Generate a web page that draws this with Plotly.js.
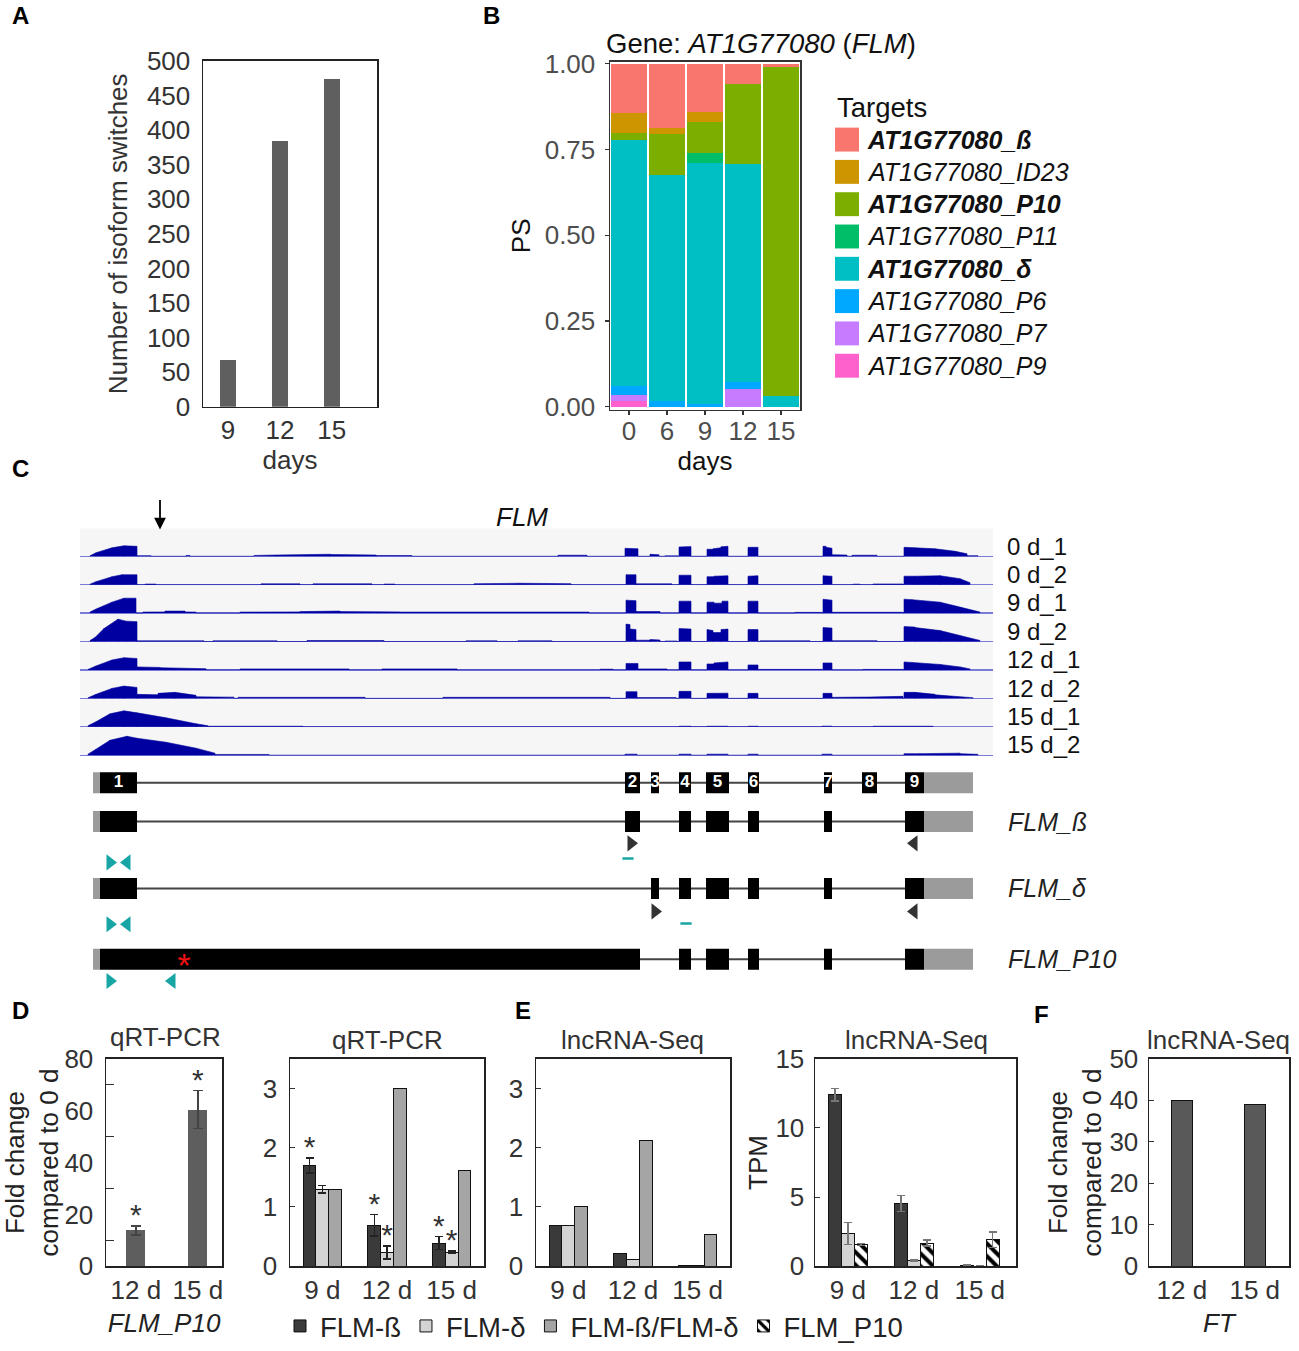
<!DOCTYPE html>
<html><head><meta charset="utf-8">
<script src="https://cdn.plot.ly/plotly-3.0.1.min.js"></script>
<style>body{margin:0;background:#fff}#chart{width:1299px;height:1351px}</style>
</head><body><div id="chart"></div>
<script>
// ---------------- DATA ----------------
// Panel A
const daysA = ['9', '12', '15'];
const switchesA = [68, 384, 474];

// Panel B (proportion of isoform usage, PS)
const daysB = ['0', '6', '9', '12', '15'];
const targetNames = ['AT1G77080_ß', 'AT1G77080_ID23', 'AT1G77080_P10', 'AT1G77080_P11', 'AT1G77080_δ', 'AT1G77080_P6', 'AT1G77080_P7', 'AT1G77080_P9'];
const targetBold = [true, false, true, false, true, false, false, false];
const targetColors = ['#F8766D', '#CD9600', '#7CAE00', '#00BE67', '#00BFC4', '#00A9FF', '#C77CFF', '#FF61CC'];
const psBeta  = [0.141, 0.187, 0.141, 0.059, 0.008];
const psID23  = [0.058, 0.017, 0.029, 0.000, 0.000];
const psP10   = [0.021, 0.120, 0.091, 0.232, 0.960];
const psP11   = [0.000, 0.000, 0.029, 0.000, 0.000];
const psDelta = [0.716, 0.658, 0.703, 0.636, 0.032];
const psP6    = [0.029, 0.017, 0.007, 0.019, 0.000];
const psP7    = [0.016, 0.000, 0.000, 0.053, 0.000];
const psP9    = [0.017, 0.000, 0.000, 0.000, 0.000];

// Panel C coverage tracks: segments [start, end, heightStart, heightEnd]
const trackLabels = ['0 d_1', '0 d_2', '9 d_1', '9 d_2', '12 d_1', '12 d_2', '15 d_1', '15 d_2'];
const cov0d1 = [[90,96,0.5,3.5],[96,112,3.5,8.5],[112,124,8.5,10.5],[124,137,10.5,10],[137,151,0.6,0.6],[186,190,0.8,0.8],
  [254,276,0.8,1.2],[276,330,1.2,2],[330,376,1.8,1.2],[376,412,0.8,0.7],[558,587,1,1],
  [625,638,8,7.5],[650,659,2,1.5],[665,678,0.4,0.4],[679,691,9.3,9.7],[707,713,7,7],[713,721,7.5,8.5],[721,728,9.5,10],
  [748,758,9,9],[823,826,10,10],[826,832,9,8],[832,847,1.5,1.2],[852,877,1,1],
  [904,915,9,8.5],[915,935,8.5,7.5],[935,955,7.5,5],[955,967,5,2.5],[967,978,0.6,0.6]];
const cov0d2 = [[90,96,0.5,3],[96,112,3,8],[112,122,8,10],[122,137,10,10],[145,156,0.6,0.6],
  [261,300,0.8,0.8],[313,372,0.8,0.8],[384,395,0.6,0.6],[474,520,0.9,1.4],[520,571,1.4,1],
  [626,636,10,10],[636,672,0.8,0.8],[679,691,9.5,9.5],[707,714,8,8],[714,728,8.5,9],[748,758,8.5,9],
  [823,832,9,8.5],[853,860,0.5,0.5],[873,903,0.7,0.7],
  [904,915,8.5,8.5],[915,940,8.5,9],[940,960,9,6],[960,970,6,2]];
const cov9d1 = [[90,96,1,4],[96,112,4,11],[112,124,11,15],[124,136,15,15],[143,165,1,1.2],[165,185,2,2],[185,196,1.2,1],
  [240,300,1,1.2],[300,340,1.5,2],[340,400,1.5,1.2],[400,589,1,1],
  [626,636,13,12.5],[636,660,1.5,1.5],[679,691,12,12],[707,714,11,11],[714,722,10,10],[722,728,12,12],[748,758,12,12],
  [795,822,0.7,0.7],[823,832,14,13],[832,903,0.8,0.8],
  [904,912,14,13.5],[912,940,13.5,11],[940,960,11,6],[960,980,6,1]];
const cov9d2 = [[90,95,1,4],[95,104,4,13],[104,118,13,22.5],[118,126,22.5,20.5],[126,137,20.5,20],
  [137,204,0.7,0.7],[213,277,0.7,0.7],[307,384,1,1],[466,497,0.7,0.7],[518,552,0.7,0.7],
  [626,630,17.5,17],[630,636,12.5,12],[636,650,1.3,1.3],[650,660,2,1.5],[665,677,0.5,0.5],
  [679,691,13,12.5],[707,713,12,11],[713,721,9,9],[721,728,12,12.5],[748,758,12,12],[760,810,0.7,0.7],
  [823,832,14,13.5],[832,877,0.8,0.8],
  [904,915,15,14.5],[915,940,14,11],[940,960,11,6],[960,980,6,1]];
const cov12d1 = [[88,96,0.5,4],[96,112,4,10],[112,124,10,12.3],[124,137,12.3,11.5],[137,160,3,2.5],[160,206,2.2,1.2],
  [240,349,1,1],[382,457,1,1],[600,613,0.7,0.7],
  [626,638,6.5,6.5],[638,667,1,1],[679,691,8,8],[707,714,6,6],[714,728,7,8],[748,758,5,5],[759,822,0.5,0.5],
  [823,832,7,7],[863,903,0.5,0.5],
  [904,912,8,7.5],[912,940,7.5,5.5],[940,960,5.5,3],[960,970,3,1]];
const cov12d2 = [[88,96,0.5,4],[96,112,4,10],[112,124,10,12.3],[124,137,12.3,11],[137,158,4,3.5],[158,175,5,6],[175,196,6,3],
  [196,234,1.5,1.2],[238,365,1,1],[443,610,1,1],
  [626,637,6.7,6.7],[637,676,0.8,0.8],[679,691,7,7],[707,728,5,5.2],[748,758,5,5],
  [823,832,5,5],[832,870,1,1.3],[870,903,1.3,2],
  [904,915,6,6],[915,935,6,4],[935,973,3.5,0.6]];
const cov15d1 = [[88,96,1,5],[96,110,5,13],[110,124,13,16],[124,137,16,14],[137,166,14,9],[166,196,9,3],[196,208,3,1],[208,303,0.5,0.5],
  [679,691,0.5,0.5],[707,728,0.5,0.5],[748,758,0.5,0.5],[822,832,0.6,0.6],[873,933,0.5,0.5]];
const cov15d2 = [[88,96,1,6],[96,110,6,15],[110,127,15,19],[127,137,19,17],[137,166,17,13],[166,196,13,7],[196,215,7,2],[215,269,0.7,0.7],
  [625,637,1,1],[679,691,1,1],[707,728,1,1],[748,758,1,1],[822,832,1,1],[904,920,1.5,1.5],[920,960,1.5,2],[960,978,1.5,0.8]];
const coverage = [cov0d1, cov0d2, cov9d1, cov9d2, cov12d1, cov12d2, cov15d1, cov15d2];

// Panel C gene model
const exonNumbers = ['1','2','3','4','5','6','7','8','9'];
const exonStart = [100, 625, 651, 679, 706, 748, 824, 862, 905];
const exonEnd   = [137, 640, 659, 691, 729, 759, 832, 877, 924];
const utr5 = [93, 100];
const utr3 = [924, 973];
const isoNames = ['', 'FLM_ß', 'FLM_δ', 'FLM_P10'];
const isoLane = [0, 1, 2.72, 4.54];
// exon indices (1-based); [a,b] = continuous block from exon a start to exon b end (retained intron)
const isoExons = [[1,2,3,4,5,6,7,8,9], [1,2,4,5,6,7,9], [1,3,4,5,6,7,9], [[1,2],4,5,6,7,9]];
const tealPrimerX    = [110, 127, 110, 127, 110, 172];
const tealPrimerLane = [2.05, 2.05, 3.64, 3.64, 5.10, 5.10];
const tealPrimerDir  = ['right','left','right','left','right','left'];
const darkPrimerX    = [631, 914, 655, 914];
const darkPrimerLane = [1.56, 1.56, 3.31, 3.31];
const darkPrimerDir  = ['right','left','right','left'];
const probeX = [628, 686];
const probeLane = [1.95, 3.62];
const mutationX = [184];
const mutationLane = [4.54];

// Panel D
const daysD1 = ['12 d', '15 d'];
const p10Fold = [13.8, 60.4];
const p10FoldErr = [1.8, 7.3];
const groupsD = ['9 d', '12 d', '15 d'];
const qBeta = [1.70, 0.69, 0.39];
const qBetaErr = [0.13, 0.18, 0.11];
const qDelta = [1.30, 0.23, 0.24];
const qDeltaErr = [0.06, 0.11, 0.02];
const qRatio = [1.30, 3.00, 1.62];
const qBetaSig = [true, true, true];
const qDeltaSig = [false, true, true];

// Panel E
const sBeta = [0.68, 0.22, 0.01];
const sDelta = [0.68, 0.11, 0.015];
const sRatio = [1.01, 2.12, 0.54];
const tpmBeta = [12.39, 4.53, 0.08];
const tpmBetaErr = [0.45, 0.57, 0.03];
const tpmDelta = [2.37, 0.43, 0.0];
const tpmDeltaErr = [0.8, 0.05, 0.0];
const tpmP10 = [1.58, 1.68, 1.92];
const tpmP10Err = [0.08, 0.2, 0.55];

// Panel F
const daysF = ['12 d', '15 d'];
const ftFold = [40, 39];

// ---------------- LAYOUT HELPERS ----------------
const W = 1299, H = 1351;
const X = p => p / W, Y = p => 1 - p / H;
const dx = (a, b) => [X(a), X(b)];
const dy = (top, bottom) => [Y(bottom), Y(top)];
const FONT = '"Liberation Sans", Arial, sans-serif';
const TXT = '#333';
const traces = [];
const annotations = [];
const shapes = [];

function frame(extra) {
  return Object.assign({showline: true, mirror: true, linecolor: '#222', linewidth: 1.5, showgrid: false,
    zeroline: false, ticks: '', tickfont: {size: 26, color: TXT}, fixedrange: true}, extra);
}
function label(text, x, y, opt) {
  annotations.push(Object.assign({text: text, x: X(x), y: Y(y), xref: 'paper', yref: 'paper', showarrow: false,
    xanchor: 'center', yanchor: 'middle', font: {size: 26, color: TXT}}, opt || {}));
}

const layout = {
  width: W, height: H, margin: {l: 0, r: 0, t: 0, b: 0}, autosize: false,
  paper_bgcolor: '#fff', plot_bgcolor: 'rgba(0,0,0,0)',
  font: {family: FONT, size: 26, color: TXT},
  barmode: 'stack', showlegend: true, hovermode: false,
  legend: {orientation: 'h', x: X(280), y: Y(1330), xanchor: 'left', yanchor: 'middle',
    font: {size: 27.5, color: '#222'}, bgcolor: 'rgba(0,0,0,0)', itemwidth: 30, traceorder: 'normal'}
};

// ---------------- PANEL A ----------------
layout.xaxis = frame({domain: dx(203, 377), anchor: 'y', type: 'category', range: [-0.48, 2.87],
  ticklabelstandoff: 0, title: {text: 'days', font: {size: 26, color: TXT}, standoff: 6}});
layout.yaxis = frame({domain: dy(61, 408), anchor: 'x', range: [0, 500], dtick: 50, ticklabelstandoff: 6,
  title: {text: 'Number of isoform switches', font: {size: 26, color: TXT}, standoff: 12}});
traces.push({type: 'bar', x: daysA, y: switchesA, xaxis: 'x', yaxis: 'y', width: 0.31,
  marker: {color: '#5f5f5f'}, showlegend: false});

// ---------------- PANEL B ----------------
layout.xaxis2 = frame({domain: dx(610, 800), anchor: 'y2', type: 'category', range: [-0.5, 4.5],
  linecolor: '#333', ticks: 'outside', ticklen: 4, tickcolor: '#333', tickwidth: 1.2,
  tickfont: {size: 26, color: '#4d4d4d'}, ticklabelstandoff: -6,
  title: {text: 'days', font: {size: 26, color: '#111'}, standoff: 2}});
layout.yaxis2 = frame({domain: dy(62, 411), anchor: 'x2', range: [-0.0087, 1.0058], linecolor: '#333',
  tickvals: [0, 0.25, 0.5, 0.75, 1], ticktext: ['0.00', '0.25', '0.50', '0.75', '1.00'],
  ticks: 'outside', ticklen: 4, tickcolor: '#333', tickwidth: 1.2, ticklabelstandoff: 4,
  tickfont: {size: 26, color: '#4d4d4d'}, title: {text: 'PS', font: {size: 26, color: '#111'}, standoff: 6}});
const psByTarget = [psBeta, psID23, psP10, psP11, psDelta, psP6, psP7, psP9];
for (let i = targetNames.length - 1; i >= 0; i--) {
  traces.push({type: 'bar', x: daysB, y: psByTarget[i], xaxis: 'x2', yaxis: 'y2', width: 0.96, name: targetNames[i],
    marker: {color: targetColors[i], line: {width: 0}}, showlegend: false});
}
label('Gene: <i>AT1G77080</i> (<i>FLM</i>)', 604, 44, {xanchor: 'left', font: {size: 27.5, color: '#111'}});
label('Targets', 835, 108, {xanchor: 'left', font: {size: 27.5, color: '#111'}});
targetNames.forEach((n, i) => {
  const cy = 140 + 32.4 * i;
  shapes.push({type: 'rect', xref: 'paper', yref: 'paper', x0: X(835), x1: X(859), y0: Y(cy + 12), y1: Y(cy - 12),
    fillcolor: targetColors[i], line: {width: 0}});
  const t = targetBold[i] ? '<b><i>' + n + '</i></b>' : '<i>' + n + '</i>';
  label(t, 865, cy, {xanchor: 'left', font: {size: 25, color: '#111'}});
});

// ---------------- PANEL C ----------------
const trackTop = 530, trackH = 28.5;
const trackAxis = i => 3 + i;       // y3 .. y10
layout.xaxis3 = {domain: dx(80, 993), anchor: 'y3', range: [80, 993], visible: false, fixedrange: true};
shapes.push({type: 'rect', xref: 'paper', yref: 'paper', x0: X(80), x1: X(993), y0: Y(trackTop + 8 * trackH), y1: Y(trackTop),
  fillcolor: '#f6f6f6', line: {width: 0}, layer: 'below'});
coverage.forEach((segs, i) => {
  const n = trackAxis(i);
  layout['yaxis' + n] = {domain: dy(trackTop + trackH * i, trackTop + trackH * (i + 1)), anchor: 'x3', range: [-0.6, 28],
    showticklabels: false, showgrid: false, showline: false, ticks: '', zeroline: true,
    zerolinecolor: '#7a7ad8', zerolinewidth: 1.2, fixedrange: true};
  const x = [], y = [];
  segs.forEach(s => { x.push(s[0], s[0], s[1], s[1]); y.push(0, s[2], s[3], 0); });
  traces.push({type: 'scatter', mode: 'lines', x: x, y: y, xaxis: 'x3', yaxis: 'y' + n, fill: 'tozeroy',
    fillcolor: '#0000a0', line: {color: '#0000a0', width: 0.6}, showlegend: false, hoverinfo: 'skip'});
  annotations.push({text: trackLabels[i], xref: 'paper', yref: 'y' + n + ' domain', x: X(1005), y: 0.38,
    xanchor: 'left', yanchor: 'middle', showarrow: false, font: {size: 24, color: '#111'}});
});
label('<i>FLM</i>', 522, 519, {font: {size: 26, color: '#111'}});
annotations.push({text: '', xref: 'x3', yref: 'paper', x: 160, y: Y(531), ax: 0, ay: -31, showarrow: true,
  arrowhead: 2, arrowsize: 1.3, arrowwidth: 1.8, arrowcolor: '#000'});

// gene structure (y11)
layout.yaxis11 = {domain: dy(770, 1000), anchor: 'x3', range: [5.513, -0.385], visible: false, fixedrange: true};
const halfH = 0.27;
function blocks(list) {
  return list.map(e => Array.isArray(e) ? [exonStart[e[0] - 1], exonEnd[e[1] - 1]] : [exonStart[e - 1], exonEnd[e - 1]]);
}
function rectPath(bl, lane) {
  const x = [], y = [];
  bl.forEach(([a, b]) => { x.push(a, b, b, a, a, null); y.push(lane - halfH, lane - halfH, lane + halfH, lane + halfH, lane - halfH, null); });
  return {x, y};
}
isoExons.forEach((list, k) => {
  const bl = blocks(list);
  const lane = isoLane[k];
  const lastStart = bl[bl.length - 1][0];
  const firstEnd = bl[0][1];
  traces.push({type: 'scatter', mode: 'lines', x: [firstEnd, lastStart], y: [lane, lane], xaxis: 'x3', yaxis: 'y11',
    line: {color: '#444', width: 2}, showlegend: false, hoverinfo: 'skip'});
  const ex = rectPath(bl, lane);
  traces.push({type: 'scatter', mode: 'lines', x: ex.x, y: ex.y, xaxis: 'x3', yaxis: 'y11', fill: 'toself',
    fillcolor: '#000', line: {width: 0, color: '#000'}, showlegend: false, hoverinfo: 'skip'});
  const ut = rectPath([utr5, utr3], lane);
  traces.push({type: 'scatter', mode: 'lines', x: ut.x, y: ut.y, xaxis: 'x3', yaxis: 'y11', fill: 'toself',
    fillcolor: '#9b9b9b', line: {width: 0, color: '#9b9b9b'}, showlegend: false, hoverinfo: 'skip'});
  if (isoNames[k]) {
    annotations.push({text: '<i>' + isoNames[k] + '</i>', xref: 'paper', yref: 'y11', x: X(1006), y: lane,
      xanchor: 'left', yanchor: 'middle', showarrow: false, font: {size: 25, color: '#222'}});
  }
});
traces.push({type: 'scatter', mode: 'text', x: exonStart.map((s, i) => (s + exonEnd[i]) / 2), y: exonNumbers.map(() => isoLane[0]),
  text: exonNumbers, textposition: 'middle center', textfont: {size: 17, color: '#fff', family: FONT, weight: 'bold'},
  xaxis: 'x3', yaxis: 'y11', showlegend: false, hoverinfo: 'skip'});
traces.push({type: 'scatter', mode: 'markers', x: tealPrimerX, y: tealPrimerLane, xaxis: 'x3', yaxis: 'y11',
  marker: {symbol: tealPrimerDir.map(d => 'triangle-' + d), size: 14, color: '#17a5a5'}, showlegend: false, hoverinfo: 'skip'});
traces.push({type: 'scatter', mode: 'markers', x: darkPrimerX, y: darkPrimerLane, xaxis: 'x3', yaxis: 'y11',
  marker: {symbol: darkPrimerDir.map(d => 'triangle-' + d), size: 14, color: '#333'}, showlegend: false, hoverinfo: 'skip'});
traces.push({type: 'scatter', mode: 'markers', x: probeX, y: probeLane, xaxis: 'x3', yaxis: 'y11',
  marker: {symbol: 'line-ew', size: 8, line: {width: 2.5, color: '#17a5a5'}}, showlegend: false, hoverinfo: 'skip'});
traces.push({type: 'scatter', mode: 'text', x: mutationX, y: mutationLane.map(v => v + 0.25), text: ['*'], textposition: 'middle center',
  textfont: {size: 34, color: '#ee1111', family: FONT}, xaxis: 'x3', yaxis: 'y11', showlegend: false, hoverinfo: 'skip'});

// ---------------- PANEL D / E / F ----------------
// D1: x4/y12, D2: x5/y13, E1: x6/y14, E2: x7/y15, F: x8/y16
const yTop = 1062, yBot = 1270;
const bw = 0.197;
// significance stars sit just above the error bar; lift = 4% of the axis span
function starTrace(xs, ys, xa, ya, span) {
  return {type: 'scatter', mode: 'text', x: xs, y: ys.map(v => v + 0.04 * span), text: xs.map(() => '*'), textposition: 'middle center',
    textfont: {size: 30, color: TXT, family: FONT}, xaxis: xa, yaxis: ya, showlegend: false, hoverinfo: 'skip', cliponaxis: false};
}
const xTitle = t => ({text: t, font: {size: 26, color: '#222'}, standoff: 10});

// D1
layout.xaxis4 = frame({domain: dx(106, 222), anchor: 'y12', type: 'category', range: [-0.48, 1.39], ticklabelstandoff: 0,
  title: xTitle('<i>FLM_P10</i>')});
layout.yaxis12 = frame({domain: dy(yTop, yBot), anchor: 'x4', range: [0, 80], dtick: 20, ticklabelstandoff: 6,
  minor: {ticks: 'inside', ticklen: 8, dtick: 10, tickcolor: '#333', tickwidth: 1},
  title: {text: 'Fold change<br>compared to 0 d', font: {size: 26, color: '#222'}, standoff: 4}});
traces.push({type: 'bar', x: daysD1, y: p10Fold, xaxis: 'x4', yaxis: 'y12', width: 0.31, marker: {color: '#5e5e5e'},
  error_y: {type: 'data', array: p10FoldErr, color: '#444', thickness: 1.5, width: 5}, showlegend: false});
traces.push(starTrace(daysD1, p10Fold.map((v, i) => v + p10FoldErr[i]), 'x4', 'y12', 80));
label('qRT-PCR', 165, 1040);

// D2
const grpX = k => groupsD.map((g, i) => i + (k - 1) * bw);
layout.xaxis5 = frame({domain: dx(290, 484), anchor: 'y13', range: [-0.5, 2.5], tickvals: [0, 1, 2], ticktext: groupsD, ticklabelstandoff: 0});
layout.yaxis13 = frame({domain: dy(yTop, yBot), anchor: 'x5', range: [0, 3.5], tickvals: [0, 1, 2, 3], ticks: 'inside', ticklen: 5,
  tickcolor: '#333', ticklabelstandoff: 6});
const colBeta = '#3a3a3a', colDelta = '#d4d4d4', colRatio = '#a5a5a5';
const outline = {color: '#111', width: 1};
traces.push({type: 'bar', x: grpX(0), y: qBeta, width: bw, xaxis: 'x5', yaxis: 'y13', name: 'FLM-ß', legendrank: 1,
  marker: {color: colBeta, line: outline}, error_y: {type: 'data', array: qBetaErr, color: '#222', thickness: 1.5, width: 4}});
traces.push({type: 'bar', x: grpX(1), y: qDelta, width: bw, xaxis: 'x5', yaxis: 'y13', name: 'FLM-δ', legendrank: 2,
  marker: {color: colDelta, line: outline}, error_y: {type: 'data', array: qDeltaErr, color: '#222', thickness: 1.5, width: 4}});
traces.push({type: 'bar', x: grpX(2), y: qRatio, width: bw, xaxis: 'x5', yaxis: 'y13', name: 'FLM-ß/FLM-δ', legendrank: 3,
  marker: {color: colRatio, line: outline}});
{
  const sx = [], sy = [];
  qBeta.forEach((v, i) => { if (qBetaSig[i]) { sx.push(grpX(0)[i]); sy.push(v + qBetaErr[i]); } });
  qDelta.forEach((v, i) => { if (qDeltaSig[i]) { sx.push(grpX(1)[i]); sy.push(v + qDeltaErr[i]); } });
  traces.push(starTrace(sx, sy, 'x5', 'y13', 3.5));
}
label('qRT-PCR', 387, 1043);

// E1
layout.xaxis6 = frame({domain: dx(536, 730), anchor: 'y14', range: [-0.5, 2.5], tickvals: [0, 1, 2], ticktext: groupsD, ticklabelstandoff: 0});
layout.yaxis14 = frame({domain: dy(yTop, yBot), anchor: 'x6', range: [0, 3.5], tickvals: [0, 1, 2, 3], ticks: 'inside', ticklen: 5,
  tickcolor: '#333', ticklabelstandoff: 6});
traces.push({type: 'bar', x: grpX(0), y: sBeta, width: bw, xaxis: 'x6', yaxis: 'y14', marker: {color: colBeta, line: outline}, showlegend: false});
traces.push({type: 'bar', x: grpX(1), y: sDelta, width: bw, xaxis: 'x6', yaxis: 'y14', marker: {color: colDelta, line: outline}, showlegend: false});
traces.push({type: 'bar', x: grpX(2), y: sRatio, width: bw, xaxis: 'x6', yaxis: 'y14', marker: {color: colRatio, line: outline}, showlegend: false});
label('lncRNA-Seq', 632, 1043);

// E2
layout.xaxis7 = frame({domain: dx(815, 1016), anchor: 'y15', range: [-0.5, 2.55], tickvals: [0, 1, 2], ticktext: groupsD, ticklabelstandoff: 0});
layout.yaxis15 = frame({domain: dy(yTop, yBot), anchor: 'x7', range: [0, 15], tickvals: [0, 5, 10, 15], ticks: 'inside', ticklen: 5,
  tickcolor: '#333', ticklabelstandoff: 4, title: {text: 'TPM', font: {size: 26, color: '#222'}, standoff: 0}});
traces.push({type: 'bar', x: grpX(0), y: tpmBeta, width: bw, xaxis: 'x7', yaxis: 'y15', marker: {color: colBeta, line: outline},
  error_y: {type: 'data', array: tpmBetaErr, color: '#777', thickness: 1.5, width: 4}, showlegend: false});
traces.push({type: 'bar', x: grpX(1), y: tpmDelta, width: bw, xaxis: 'x7', yaxis: 'y15', marker: {color: colDelta, line: outline},
  error_y: {type: 'data', array: tpmDeltaErr, color: '#777', thickness: 1.5, width: 4}, showlegend: false});
traces.push({type: 'bar', x: grpX(2), y: tpmP10, width: bw, xaxis: 'x7', yaxis: 'y15', name: 'FLM_P10', legendrank: 4,
  marker: {color: '#fff', line: outline, pattern: {shape: '\\', fgcolor: '#000', bgcolor: '#fff', size: 9, solidity: 0.45}},
  error_y: {type: 'data', array: tpmP10Err, color: '#777', thickness: 1.5, width: 4}});
label('lncRNA-Seq', 916, 1043);

// F
layout.xaxis8 = frame({domain: dx(1149, 1289), anchor: 'y16', type: 'category', range: [-0.45, 1.47], ticklabelstandoff: 0,
  title: xTitle('<i>FT</i>')});
layout.yaxis16 = frame({domain: dy(yTop, yBot), anchor: 'x8', range: [0, 50], dtick: 10, ticks: 'inside', ticklen: 5,
  tickcolor: '#333', ticklabelstandoff: 4,
  title: {text: 'Fold change<br>compared to 0 d', font: {size: 26, color: '#222'}, standoff: 0}});
traces.push({type: 'bar', x: daysF, y: ftFold, xaxis: 'x8', yaxis: 'y16', width: 0.29,
  marker: {color: '#595959', line: {color: '#111', width: 1}}, showlegend: false});
label('lncRNA-Seq', 1218, 1043);

// panel letters
[['A', 20, 16], ['B', 491, 16], ['C', 20, 470], ['D', 20, 1013], ['E', 523, 1013], ['F', 1041, 1018]].forEach(([t, x, y]) =>
  label('<b>' + t + '</b>', x, y, {font: {size: 24, color: '#000'}}));

layout.annotations = annotations;
layout.shapes = shapes;
Plotly.newPlot('chart', traces, layout, {staticPlot: true, displayModeBar: false});
</script>
</body></html>
